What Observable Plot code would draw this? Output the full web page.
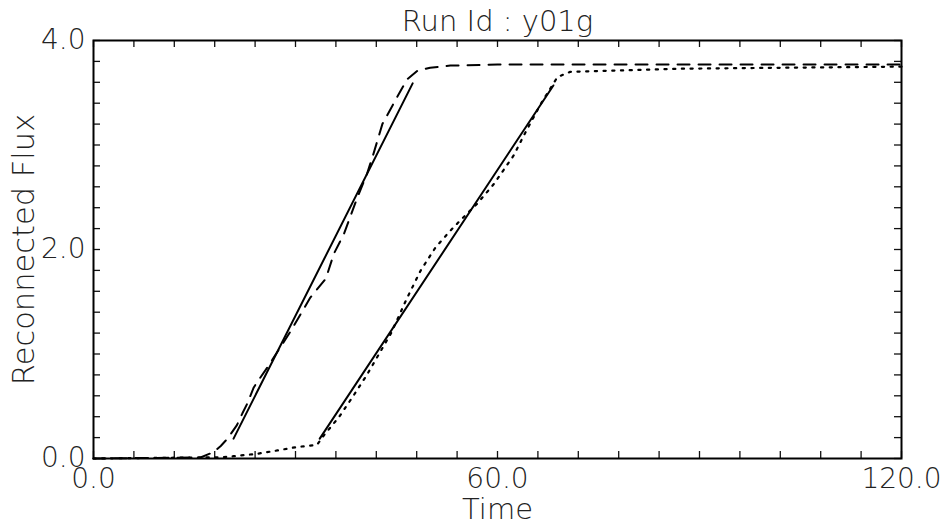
<!DOCTYPE html>
<html>
<head>
<meta charset="utf-8">
<script src="https://cdn.jsdelivr.net/npm/d3@7"></script>
<script src="https://cdn.jsdelivr.net/npm/@observablehq/plot@0.6"></script>
<style>
  html, body { margin: 0; padding: 0; background: #fff; }
  #chart svg { display: block; }
</style>
</head>
<body>
<div id="chart"></div>
<script>
// ---- Data ----
const titleText = "Run Id : y01g";
const xLabelText = "Time";
const yLabelText = "Reconnected Flux";

const xTickLabels = [0, 60, 120];
const yTickLabels = [0, 2, 4];
const xMinorTicks = d3.range(0, 21).map(i => i * 6);
const yMinorTicks = d3.range(0, 21).map(i => i / 5);

// dashed series (run A)
const runA_time = [0, 15.9, 17.8, 18.9, 19.9, 21.3, 22.1, 22.8, 23.8, 24.3, 25.8, 26.5, 27.8, 29.3, 31.2, 32.2, 34.5, 35.7, 37.2, 39.2, 40.6, 41.6, 42.9, 45.1, 46.6, 48.1, 50.0, 53.0, 60, 80, 100, 120];
const runA_flux = [0, 0.01, 0.06, 0.12, 0.19, 0.32, 0.43, 0.52, 0.68, 0.73, 0.87, 0.94, 1.07, 1.22, 1.43, 1.54, 1.72, 1.96, 2.15, 2.50, 2.72, 2.92, 3.20, 3.46, 3.63, 3.71, 3.74, 3.76, 3.77, 3.77, 3.77, 3.77];

// dotted series (run B)
const runB_time = [0, 19.3, 20.8, 24.3, 27.3, 30.2, 33.2, 34.2, 36.5, 38.6, 40.6, 42.4, 44.2, 46.6, 48.6, 50.8, 53.0, 54.5, 57.0, 59.5, 62.4, 63.9, 66.4, 68.9, 70.8, 87.2, 120];
const runB_flux = [0, 0.012, 0.022, 0.045, 0.077, 0.11, 0.13, 0.22, 0.40, 0.60, 0.80, 1.00, 1.20, 1.54, 1.80, 2.02, 2.18, 2.28, 2.44, 2.63, 2.90, 3.09, 3.39, 3.65, 3.70, 3.73, 3.75];

// solid linear fits
const fitA_time = [20.8, 47.4];
const fitA_flux = [0.19, 3.59];
const fitB_time = [33.6, 68.3];
const fitB_flux = [0.19, 3.57];

const toRows = (ts, fs) => ts.map((t, i) => ({t, f: fs[i]}));

const W = 946, H = 527;
const mL = 93, mR = 45, mT = 40, mB = 69;
const innerW = W - mL - mR, innerH = H - mT - mB;
const tickLen = 7;
const tickFont = 28;
const fmt = d => d.toFixed(1);

const chart = Plot.plot({
  width: W,
  height: H,
  marginLeft: mL,
  marginRight: mR,
  marginTop: mT,
  marginBottom: mB,
  x: {domain: [0, 120]},
  y: {domain: [0, 4]},
  style: {fontFamily: "'DejaVu Sans', sans-serif", fontWeight: 200, color: "#222", background: "#fff", overflow: "visible"},
  marks: [
    // inward minor ticks on all four sides
    Plot.tickX(xMinorTicks, {x: d => d, insetTop: innerH - tickLen, strokeWidth: 1.3, stroke: "#111"}),
    Plot.tickX(xMinorTicks, {x: d => d, insetBottom: innerH - tickLen, strokeWidth: 1.3, stroke: "#111"}),
    Plot.tickY(yMinorTicks, {y: d => d, insetRight: innerW - tickLen, strokeWidth: 1.3, stroke: "#111"}),
    Plot.tickY(yMinorTicks, {y: d => d, insetLeft: innerW - tickLen, strokeWidth: 1.3, stroke: "#111"}),
    // tick labels
    Plot.axisX({ticks: xTickLabels, tickSize: 0, tickPadding: 10, tickFormat: fmt, fontSize: tickFont, label: null}),
    Plot.axisY({ticks: yTickLabels, tickSize: 0, tickPadding: 8, tickFormat: fmt, fontSize: tickFont, label: null}),
    // data
    Plot.line(toRows(runA_time, runA_flux), {x: "t", y: "f", stroke: "#000", strokeWidth: 2, strokeDasharray: "12,9"}),
    Plot.line(toRows(runB_time, runB_flux), {x: "t", y: "f", stroke: "#000", strokeWidth: 2.2, strokeDasharray: "2.2,6.5"}),
    Plot.line(toRows(fitA_time, fitA_flux), {x: "t", y: "f", stroke: "#000", strokeWidth: 2}),
    Plot.line(toRows(fitB_time, fitB_flux), {x: "t", y: "f", stroke: "#000", strokeWidth: 2}),
    Plot.frame({stroke: "#000", strokeWidth: 2}),
    // title and axis labels
    Plot.text([titleText], {frameAnchor: "top", textAnchor: "middle", lineAnchor: "bottom", dy: -10, fontSize: 29, fill: "#222"}),
    Plot.text([xLabelText], {frameAnchor: "bottom", textAnchor: "middle", lineAnchor: "bottom", dy: 60, fontSize: 29, fill: "#222"}),
    Plot.text([yLabelText], {frameAnchor: "left", textAnchor: "middle", lineAnchor: "bottom", rotate: -90, dx: -60, fontSize: 30.5, fill: "#222"})
  ]
});

document.getElementById("chart").appendChild(chart);
</script>
</body>
</html>
